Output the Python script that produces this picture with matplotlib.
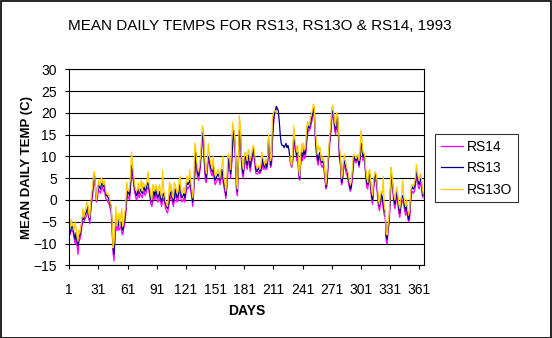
import numpy as np
import matplotlib
matplotlib.use("Agg")
import matplotlib.pyplot as plt

nan = np.nan

# mean daily temps (C), 1993, day 1..365
rs13 = [
    -7.0, -7.5, -6.5, -6.0, -6.8, -8.0, -9.0, -7.5, -9.5, -10.5,
    -8.5, -8.0, -7.0, -5.0, -4.0, -4.5, -3.5, -3.0, -2.5, -1.5,
    -3.5, -4.5, -2.0, 0.5, 2.0, 4.5, 5.5, 3.0, 0.0, 1.5,
    3.5, 3.0, 2.5, 3.5, 4.0, 3.0, 3.5, 2.0, 1.0, 1.0,
    0.5, 0.0, -1.0, -1.5, -5.5, -11.0, -12.5, -8.0, -5.0, -5.5,
    -4.5, -6.0, -5.5, -5.0, -6.5, -7.0, -5.5, -4.5, -2.5, 0.5,
    2.0, 1.5, 1.0, 3.5, 8.0, 7.0, 5.0, 3.0, 2.0, 1.0,
    1.5, 2.5, 1.5, 2.5, 2.0, 1.5, 2.5, 3.0, 2.0, 2.5,
    3.5, 4.0, 3.0, 1.5, 0.0, -0.5, 1.0, 2.0, 1.0, 2.5,
    1.5, 0.5, 1.0, 2.0, 0.5, -0.5, 1.0, 1.5, 0.5, -1.0,
    -1.5, -2.0, -1.0, 0.5, 1.5, 2.5, 0.5, -0.5, 0.5, 2.5,
    1.5, 0.5, 1.0, 3.0, 3.5, 1.0, 0.5, 1.0, 1.5, 0.5,
    2.5, 4.0, 3.5, 4.0, 4.5, 3.0, 1.5, -0.5, 3.0, 6.0,
    11.0, 8.0, 6.0, 5.5, 7.0, 9.0, 12.0, 15.5, 14.0, 9.0,
    6.0, 5.0, 8.0, 10.0, 9.5, 8.0, 7.0, 6.5, 8.0, 6.0,
    4.5, 5.0, 5.5, 6.0, 5.5, 4.5, 6.0, 7.0, 5.5, 4.0,
    3.0, 1.0, 3.5, 7.0, 9.5, 8.5, 6.0, 9.0, 13.0, 16.0,
    14.5, 10.0, 3.0, 2.0, 9.5, 16.0, 15.5, 10.0, 7.0, 6.0,
    9.0, 10.0, 9.0, 8.0, 9.5, 10.5, 7.5, 9.0, 10.0, 12.0,
    11.0, 9.0, 7.0, 6.5, 7.0, 7.5, 6.5, 7.0, 8.0, 9.5,
    8.0, 7.5, 8.5, 7.5, 9.0, 14.0, 12.0, 8.0, 9.0, 14.5,
    18.0, 20.0, 20.5, 21.5, 21.0, 20.5, 18.0, 15.0, 13.0, 12.5,
    12.5, 12.0, 12.5, 13.0, 12.0, 12.5, 11.5, 9.5, 8.5, 8.0,
    10.0, 14.5, 13.0, 12.0, 10.0, 11.0, 6.5, 5.0, 9.0, 11.0,
    10.0, 12.0, 10.5, 11.0, 13.5, 16.0, 17.0, 16.5, 17.5, 18.5,
    19.5, 21.0, 20.5, 15.5, 12.0, 10.0, 9.0, 10.5, 11.0, 9.0,
    8.5, 9.0, 8.0, 5.5, 3.0, 4.0, 8.0, 11.0, 14.0, 16.0,
    19.5, 20.5, 19.5, 17.0, 16.0, 18.5, 19.0, 15.0, 10.0, 9.0,
    4.0, 5.0, 8.0, 9.0, 8.0, 7.0, 6.5, 5.0, 4.0, 2.5,
    3.0, 5.5, 8.0, 10.0, 9.5, 9.0, 9.5, 10.0, 8.0, 9.5,
    13.0, 12.5, 10.0, 10.5, 9.0, 6.0, 4.0, 3.5, 5.5, 6.0,
    3.5, 1.0, 0.0, 3.5, 5.0, 6.0, 5.0, 2.0, -0.5, -1.5,
    0.0, 1.5, 0.5, -1.0, -2.5, -3.0, -8.5, -9.0, -6.0, -4.5,
    0.0, 6.0, 5.0, 2.5, 0.0, -1.0, 0.5, 2.0, 0.0, -2.0,
    -3.0, -1.0, 0.5, 1.0, 0.0, -1.5, -2.5, -1.0, -3.0, -4.5,
    -3.5, 0.0, 2.5, 3.0, 2.5, 3.0, 4.0, 6.5, 5.5, 4.0,
    3.5, 4.5, 5.0, 2.0, 1.0,
]

rs13o = [
    -6.5, -6.0, -4.5, -5.5, -6.0, -7.0, -5.0, -6.5, -8.5, -9.5,
    -7.0, -7.5, -6.0, -4.0, -2.0, -4.0, -2.5, -2.0, -0.5, -1.0,
    -3.0, -4.0, -1.0, 1.5, 3.0, 6.0, 6.5, 2.5, 0.0, 2.0,
    4.5, 3.5, 4.0, 5.0, 4.5, 3.5, 4.5, 3.0, 1.5, 1.5,
    1.5, 1.0, -0.5, -1.0, -4.5, -11.0, -10.0, -6.5, -1.5, -6.0,
    -4.0, -3.0, -6.0, -3.5, -2.0, -6.0, -5.0, -3.0, -1.5, 4.0,
    2.5, 2.0, 3.0, 5.5, 11.0, 8.5, 6.0, 4.0, 2.5, 2.0,
    2.5, 4.0, 2.0, 3.0, 4.5, 2.0, 4.0, 3.5, 3.0, 3.5,
    4.5, 6.5, 4.0, 2.5, 1.0, 0.0, 3.5, 3.0, 2.0, 3.5,
    2.5, 1.5, 3.0, 3.5, 1.5, 0.5, 6.8, 2.5, 1.5, 0.0,
    -1.0, -1.5, 0.5, 4.0, 2.0, 3.5, 1.0, 0.5, 4.0, 3.5,
    2.5, 1.5, 2.0, 4.5, 5.5, 2.0, 1.5, 2.0, 3.0, 1.5,
    3.5, 5.5, 4.5, 5.0, 7.0, 4.0, 2.5, 0.5, 3.5, 13.0,
    12.0, 9.0, 7.0, 6.5, 8.0, 10.0, 14.0, 17.0, 16.5, 11.0,
    7.5, 6.0, 9.0, 13.0, 10.5, 9.0, 8.0, 7.0, 10.0, 7.0,
    5.5, 6.0, 6.5, 7.0, 6.5, 5.0, 7.0, 8.0, 10.0, 5.0,
    4.0, 2.0, 4.0, 10.0, 10.5, 9.5, 7.0, 13.5, 17.8, 16.5,
    15.0, 11.0, 4.0, 2.5, 10.0, 19.3, 17.0, 11.0, 8.5, 7.0,
    10.0, 11.0, 10.5, 9.0, 11.5, 11.5, 9.0, 10.0, 11.0, 12.5,
    12.0, 10.0, 8.0, 7.5, 7.5, 8.0, 7.0, 8.0, 11.0, 10.0,
    9.0, 8.0, 9.5, 8.5, 10.0, 15.0, 13.5, 9.0, 10.0, 19.0,
    20.0, 20.5, 20.5, 20.0, nan, nan, nan, nan, nan, nan,
    nan, nan, nan, nan, nan, nan, nan, 10.0, 8.5, 8.0,
    12.0, 17.0, 14.0, 12.5, 11.0, 12.5, 7.0, 5.5, 10.0, 13.0,
    11.0, 13.0, 11.5, 12.0, 16.0, 18.0, 17.5, 17.0, 19.0, 19.5,
    20.5, 22.0, 21.5, 16.0, 14.0, 10.5, 12.5, 11.5, 12.0, 9.5,
    9.0, 10.0, 9.0, 6.0, 3.5, 6.0, 9.0, 12.0, 15.0, 17.5,
    21.0, 21.8, 20.0, 18.0, 17.0, 20.0, 19.5, 16.0, 12.0, 10.0,
    5.0, 6.0, 9.0, 10.5, 9.0, 8.0, 7.0, 6.0, 4.5, 3.5,
    4.0, 6.5, 10.0, 10.5, 10.0, 9.5, 10.0, 10.5, 9.0, 11.0,
    16.0, 14.0, 11.0, 11.0, 10.0, 7.0, 5.0, 4.0, 6.5, 7.0,
    4.5, 2.0, 1.0, 4.5, 6.0, 6.5, 5.5, 3.0, 0.0, -1.0,
    1.0, 2.0, 1.5, 5.4, -1.5, -2.5, -7.5, -8.0, -5.5, -3.5,
    2.0, 7.5, 6.0, 3.0, 1.0, 0.0, 2.0, 3.0, 1.0, -1.0,
    -2.0, 0.0, 1.5, 4.5, 1.0, -0.5, -1.5, 0.0, -2.0, -3.5,
    -2.5, 1.0, 3.5, 3.5, 3.0, 4.0, 5.0, 8.2, 6.5, 5.0,
    4.5, 6.0, 5.5, 3.0, 1.5,
]

rs14 = [
    -7.5, -8.0, -7.0, -7.0, -7.5, -9.0, -10.0, -8.5, -10.5, -12.5,
    -9.5, -9.0, -8.0, -6.0, -5.0, -5.0, -4.5, -4.0, -3.5, -2.5,
    -4.0, -5.5, -3.0, -0.5, 1.0, 3.5, 4.5, 2.0, -0.5, 0.5,
    2.5, 2.0, 1.5, 2.5, 3.0, 2.0, 2.5, 1.0, 0.0, 0.0,
    -0.5, -1.0, -2.0, -2.5, -6.5, -12.0, -14.0, -9.0, -6.0, -7.0,
    -5.5, -7.0, -6.5, -6.0, -7.5, -8.0, -6.5, -5.5, -3.5, -0.5,
    1.0, 0.5, 0.0, 2.5, 7.0, 6.0, 4.0, 2.0, 1.0, 0.0,
    0.5, 1.5, 0.5, 1.5, 1.0, 0.5, 1.5, 2.0, 1.0, 1.5,
    2.5, 3.0, 2.0, 0.5, -1.0, -1.5, 0.0, 1.0, 0.0, 1.5,
    0.5, -0.5, 0.0, 1.0, -0.5, -1.5, 0.0, 0.5, -0.5, -2.0,
    -2.5, -3.0, -2.0, -0.5, 0.5, 1.5, -0.5, -1.5, -0.5, 1.5,
    0.5, -0.5, 0.0, 2.0, 2.5, 0.0, -0.5, 0.0, 0.5, -0.5,
    1.5, 3.0, 2.5, 3.0, 3.5, 2.0, 0.5, -1.5, 2.0, 5.0,
    10.0, 7.0, 5.0, 4.5, 6.0, 8.0, 11.0, 14.0, 13.0, 8.0,
    4.5, 4.0, 7.0, 9.0, 8.5, 7.0, 6.0, 5.5, 7.0, 5.0,
    3.5, 4.0, 4.5, 5.0, 4.5, 3.5, 5.0, 6.0, 4.5, 3.0,
    2.0, 0.3, 2.5, 6.0, 8.5, 7.5, 5.0, 8.0, 12.0, 15.0,
    13.5, 9.0, 2.0, 1.0, 8.5, 15.0, 14.5, 9.0, 6.0, 5.0,
    8.0, 9.0, 8.0, 7.0, 8.5, 9.5, 6.5, 8.0, 9.0, 11.0,
    10.0, 8.0, 6.0, 6.0, 6.0, 6.5, 6.0, 6.5, 7.0, 8.5,
    7.0, 7.0, 7.5, 7.0, 8.0, 13.0, 11.0, 7.5, 8.0, 13.5,
    17.0, 19.5, 20.0, 21.0, nan, nan, nan, nan, nan, nan,
    nan, nan, nan, nan, nan, nan, nan, 9.0, 8.0, 7.5,
    9.0, 13.5, 12.0, 11.0, 9.0, 10.0, 5.5, 4.5, 8.0, 10.0,
    9.0, 11.0, 9.5, 10.0, 12.5, 15.0, 16.0, 16.0, 16.5, 17.5,
    18.5, 20.5, 19.5, 14.5, 11.0, 9.0, 8.0, 9.5, 10.0, 8.0,
    7.5, 8.0, 7.0, 4.5, 2.5, 3.0, 7.0, 10.0, 13.0, 15.0,
    18.5, 19.5, 18.5, 16.0, 15.0, 17.5, 18.0, 14.0, 9.0, 8.0,
    3.5, 4.0, 7.0, 8.0, 7.0, 6.0, 5.5, 4.0, 3.0, 2.0,
    2.5, 4.5, 7.0, 9.5, 9.0, 8.5, 9.0, 9.5, 7.5, 9.0,
    12.0, 12.0, 9.0, 10.0, 8.5, 5.0, 3.0, 2.5, 4.5, 5.0,
    2.5, 0.0, -1.0, 2.5, 4.0, 5.0, 4.0, 1.0, -1.5, -2.5,
    -1.0, 0.5, -0.5, -2.0, -3.5, -4.0, -9.5, -10.0, -7.0, -5.5,
    -1.0, 5.0, 4.0, 1.5, -1.0, -2.0, -0.5, 1.0, -1.0, -3.0,
    -4.0, -2.0, -0.5, 0.0, -1.0, -2.5, -3.5, -2.0, -4.0, -5.0,
    -4.5, -1.0, 1.5, 2.0, 1.5, 2.0, 3.0, 5.5, 4.5, 3.0,
    2.5, 3.5, 4.0, 1.0, 0.5,
]

days = np.arange(1, len(rs13) + 1)
day_ticks = list(range(1, 362, 30))
temp_ticks = list(range(-15, 31, 5))

plt.rcParams['font.family'] = ['Liberation Sans', 'DejaVu Sans']

fig = plt.figure(figsize=(5.52, 3.38), dpi=100)
ax = fig.add_axes([0.1255, 0.2151, 0.6432, 0.5799])

# draw order: RS14 under, RS13O on top
ax.plot(days, rs14, color='#FF00FF', lw=0.9, label='RS14')
ax.plot(days, rs13, color='#000080', lw=0.9, label='RS13')
ax.plot(days, rs13o, color='#FFCC00', lw=0.9, label='RS13O')

ax.set_xlim(1, 366.2)
ax.set_ylim(-15, 30)
ax.set_xticks(day_ticks)
ax.set_yticks(temp_ticks)
ax.yaxis.grid(True, color='black', lw=0.8)
ax.set_axisbelow(True)
for s in ax.spines.values():
    s.set_linewidth(0.8)
ax.tick_params(axis='both', direction='out', length=3, width=0.8, labelsize=10)
ax.tick_params(axis='x', pad=10)
ax.tick_params(axis='y', pad=6)

ax.set_xlabel('DAYS', fontsize=10, fontweight='bold', labelpad=5)
ax.set_ylabel('MEAN DAILY TEMP (C)', fontsize=9.5, fontweight='bold', labelpad=0)

fig.text(0.471, 0.923, 'MEAN DAILY TEMPS FOR RS13, RS13O & RS14, 1993',
         fontsize=11, ha='center', va='center')

leg = fig.legend(loc='upper left', bbox_to_anchor=(435 / 552, 1 - 134 / 338),
                 fontsize=10, frameon=True, fancybox=False, shadow=False,
                 handlelength=1.6, handletextpad=0.3, labelspacing=0.55,
                 borderpad=0.4, borderaxespad=0)
leg.get_frame().set_edgecolor('black')
leg.get_frame().set_linewidth(0.8)

# outer chart border
fig.patches.append(plt.Rectangle((0.001, 0.001), 0.997, 0.996, transform=fig.transFigure,
                                 fill=False, edgecolor='black', lw=1.2))

fig.savefig('out.png', dpi=100)
